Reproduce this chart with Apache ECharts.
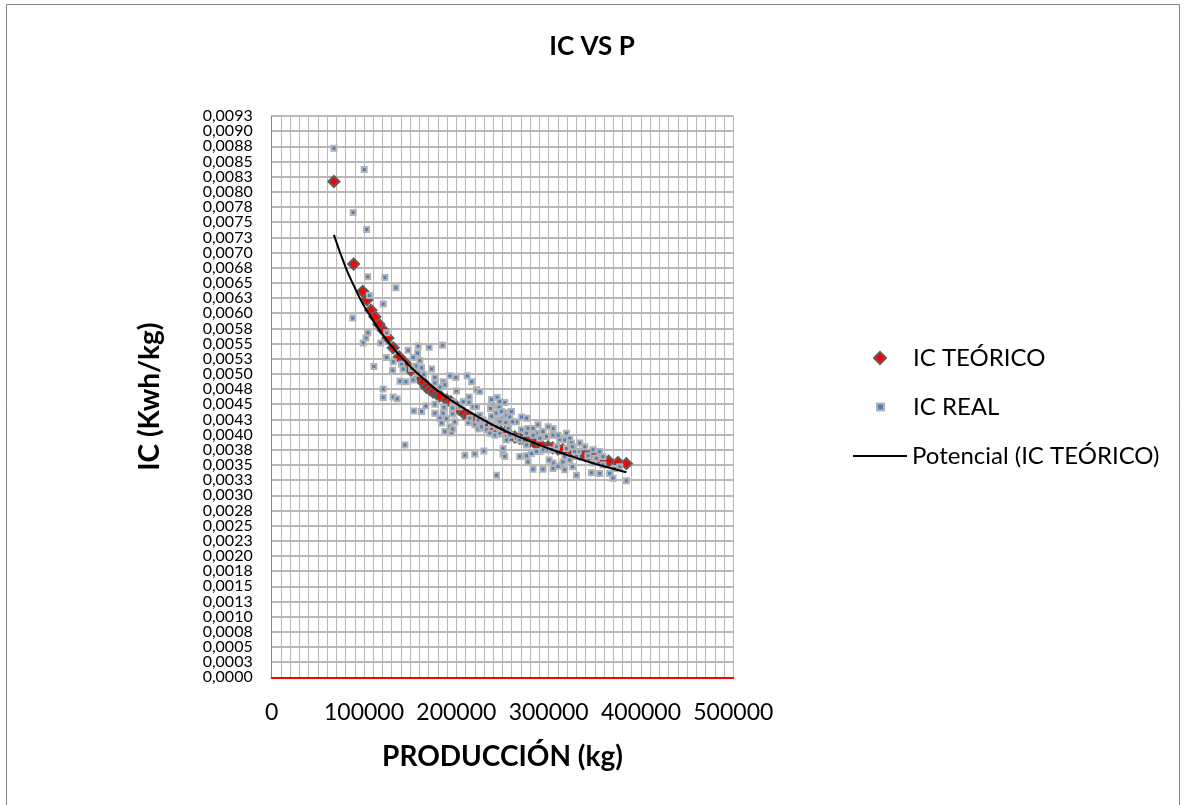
<!DOCTYPE html>
<html>
<head>
<meta charset="utf-8">
<script src="https://cdn.jsdelivr.net/npm/echarts@6.0.0/dist/echarts.min.js"></script>
<style>
html,body{margin:0;padding:0;background:#fff;}
#chart{width:1184px;height:805px;}
</style>
</head>
<body>
<div id="chart"></div>
<script>
// ---- Data ----
var realX = [67400,100200,88300,102800,103900,122600,134500,105800,120800,87900,104200,102100,124500,99100,118000,147800,158700,170600,185100,158000,153200,160500,124500,131600,140700,110700,131000,142400,162300,156200,173200,158700,151500,164800,176700,138900,145300,153200,185700,193000,199500,211700,216500,187600,182100,200200,221900,225400,120800,120800,131600,135900,213900,209200,213900,218200,176700,186500,195900,203800,221900,238100,244200,247100,252500,239200,246300,252500,242700,154000,162300,167000,176700,185700,195900,182100,189400,198400,184000,193000,225400,227300,220000,212800,245200,250600,254300,257900,265200,270600,276000,277700,283100,288500,270600,187600,194800,223600,232700,238100,241700,247100,254300,256100,286800,293900,297600,304800,312000,317400,322800,324700,333700,319300,331800,308400,303000,297600,290400,144300,209200,220000,229800,250600,243500,277700,283100,293900,304800,304800,313900,319300,330100,330100,348100,342600,355300,358900,348100,346300,355300,366100,369700,377000,384200,176700,196500,207400,237000,238100,259700,214600,223600,229000,227300,247100,243500,236300,257900,265200,195900,248900,253600,260800,299400,304800,328200,349900,268700,276000,281400,286800,293900,268700,276000,300400,310200,315600,317400,250600,252500,254300,276000,283100,290400,310200,319300,325800,317400,322800,325800,358900,371500,351700,339100];
var realY = [0.00872,0.00837,0.00766,0.00738,0.00660,0.00659,0.00642,0.00629,0.00615,0.00592,0.00568,0.00559,0.00568,0.00551,0.00551,0.00539,0.00546,0.00544,0.00547,0.00534,0.00527,0.00522,0.00527,0.00520,0.00516,0.00512,0.00506,0.00508,0.00510,0.00513,0.00508,0.00501,0.00509,0.00499,0.00494,0.00488,0.00487,0.00490,0.00487,0.00497,0.00494,0.00497,0.00487,0.00482,0.00478,0.00472,0.00474,0.00471,0.00475,0.00461,0.00462,0.00459,0.00462,0.00454,0.00453,0.00446,0.00450,0.00445,0.00444,0.00446,0.00446,0.00458,0.00461,0.00454,0.00453,0.00447,0.00445,0.00436,0.00435,0.00439,0.00438,0.00447,0.00435,0.00435,0.00434,0.00427,0.00426,0.00421,0.00419,0.00413,0.00432,0.00421,0.00416,0.00420,0.00424,0.00427,0.00432,0.00429,0.00421,0.00429,0.00427,0.00410,0.00410,0.00416,0.00408,0.00405,0.00403,0.00409,0.00408,0.00416,0.00399,0.00402,0.00397,0.00410,0.00402,0.00405,0.00397,0.00410,0.00392,0.00391,0.00394,0.00386,0.00386,0.00377,0.00372,0.00380,0.00375,0.00375,0.00372,0.00383,0.00366,0.00368,0.00373,0.00368,0.00333,0.00355,0.00343,0.00343,0.00344,0.00353,0.00350,0.00362,0.00364,0.00333,0.00375,0.00365,0.00372,0.00364,0.00353,0.00337,0.00336,0.00336,0.00328,0.00347,0.00324,0.00485,0.00454,0.00454,0.00443,0.00430,0.00438,0.00427,0.00424,0.00424,0.00413,0.00421,0.00413,0.00402,0.00399,0.00394,0.00409,0.00438,0.00420,0.00421,0.00413,0.00399,0.00372,0.00361,0.00391,0.00383,0.00369,0.00372,0.00375,0.00364,0.00365,0.00358,0.00348,0.00355,0.00342,0.00377,0.00364,0.00391,0.00402,0.00399,0.00394,0.00399,0.00402,0.00380,0.00364,0.00358,0.00347,0.00350,0.00344,0.00361,0.00380];

var teoX = [67400,88700,98500,103100,107500,111800,116100,120800,125900,131600,138100,144300,150800,160500,164100,167700,171300,174900,178900,182100,189700,194000,198400,202700,208100,212400,216800,221100,225400,228700,233000,236300,240600,247100,252500,257900,263300,268700,274100,279500,285000,291500,299400,304400,310200,315300,320700,327200,333700,339100,344500,349900,355300,365000,375100,384200];
var teoY = [0.00817,0.00681,0.00636,0.00622,0.00605,0.00594,0.00582,0.00572,0.00559,0.00543,0.00528,0.00518,0.00506,0.00495,0.00486,0.00478,0.00474,0.00470,0.00467,0.00464,0.00457,0.00454,0.00449,0.00442,0.00435,0.00431,0.00427,0.00424,0.00421,0.00417,0.00413,0.00411,0.00409,0.00406,0.00403,0.00399,0.00396,0.00394,0.00391,0.00389,0.00386,0.00383,0.00380,0.00378,0.00376,0.00375,0.00373,0.00371,0.00368,0.00366,0.00365,0.00363,0.00361,0.00356,0.00354,0.00352];

// Trendline (Potencial)
var trendX = [67400,80000,90000,100000,120000,140000,160000,180000,200000,225000,250000,275000,300000,325000,350000,384200];
var trendY = [0.00729,0.00676,0.00642,0.00612,0.00565,0.00528,0.00498,0.00472,0.00451,0.00428,0.00408,0.00392,0.00377,0.00364,0.00352,0.00338];

var titleText = 'IC VS P';
var xName = 'PRODUCCIÓN (kg)';
var yName = 'IC (Kwh/kg)';
var seriesNames = ['IC TEÓRICO', 'IC REAL', 'Potencial (IC TEÓRICO)'];
var yMin = 0, yMax = 0.00925, yStep = 0.00025;

function zip(a, b) { var r = []; for (var i = 0; i < a.length; i++) r.push([a[i], b[i]]); return r; }
function fmtY(v) {
  var n = Math.round(v * 10000 + 1e-7);
  return (n / 10000).toFixed(4).replace('.', ',');
}

var FONT = 'Lato';
var legendText = {fontFamily: FONT, fontSize: 24, color: '#000'};
var yLabel = {fontFamily: FONT, fontSize: 16, color: '#000', margin: 19, formatter: fmtY};
var chart = echarts.init(document.getElementById('chart'), null, {renderer: 'canvas'});
chart.setOption({
  animation: false,
  backgroundColor: '#ffffff',
  graphic: [{
    type: 'rect', shape: {x: 6.5, y: 4.5, width: 1173, height: 820},
    style: {fill: 'none', stroke: '#868686', lineWidth: 1}, silent: true, z: -10
  }],
  title: {
    text: titleText, left: 'center', top: 29,
    textStyle: {fontFamily: FONT, fontWeight: 'bold', fontSize: 26, color: '#000'}
  },
  legend: [
    {data: [seriesNames[0]], orient: 'vertical', left: 873, top: 346, padding: 0,
     itemWidth: 12, itemHeight: 12,
     textStyle: Object.assign({padding: [0, 0, 0, 22]}, legendText)},
    {data: [seriesNames[1]], orient: 'vertical', left: 876, top: 395, padding: 0,
     itemWidth: 7, itemHeight: 7,
     textStyle: Object.assign({padding: [0, 0, 0, 24]}, legendText)},
    {data: [{name: seriesNames[2], icon: 'rect'}], orient: 'vertical', left: 853, top: 444, padding: 0,
     itemWidth: 54, itemHeight: 2, textStyle: legendText}
  ],
  grid: {left: 271.7, right: 450.7, top: 116, bottom: 127.7, containLabel: false},
  xAxis: {
    type: 'value', min: 0, max: 500000, interval: 100000,
    name: xName, nameLocation: 'middle', nameGap: 66,
    nameTextStyle: {fontFamily: FONT, fontWeight: 'bold', fontSize: 28, color: '#000'},
    axisLine: {show: true, onZero: false, lineStyle: {color: '#ff0000', width: 2}},
    axisTick: {show: false},
    axisLabel: {fontFamily: FONT, fontSize: 23, color: '#000', margin: 24,
      showMinLabel: true, showMaxLabel: true,
      formatter: function (v) { return String(Math.round(v)); }},
    splitLine: {show: true, lineStyle: {color: '#b8b8b8', width: 1}},
    minorTick: {show: false, splitNumber: 10},
    minorSplitLine: {show: true, lineStyle: {color: '#b8b8b8', width: 1}}
  },
  yAxis: [
    {
      type: 'value', min: yMin, max: yMax, interval: yStep,
      name: yName, nameLocation: 'middle', nameGap: 108, nameRotate: 90,
      nameTextStyle: {fontFamily: FONT, fontWeight: 'bold', fontSize: 28, color: '#000'},
      axisLine: {show: true, lineStyle: {color: '#868686', width: 1}},
      axisTick: {show: false},
      axisLabel: Object.assign({showMinLabel: false, showMaxLabel: false}, yLabel),
      splitLine: {show: true, lineStyle: {color: '#a0a0a0', width: 1.5}}
    },
    {
      // carries only the end labels (0 and max) of the same scale
      type: 'value', position: 'left', offset: 0, min: yMin, max: yMax, interval: yMax - yMin,
      axisLine: {show: false}, axisTick: {show: false}, splitLine: {show: false},
      axisLabel: Object.assign({showMinLabel: true, showMaxLabel: true}, yLabel)
    }
  ],
  series: [
    {
      name: seriesNames[0], type: 'scatter', data: zip(teoX, teoY),
      symbol: 'diamond', symbolSize: 11,
      itemStyle: {color: '#ff0000', borderColor: '#5e5e5e', borderWidth: 2, opacity: 1},
      z: 2
    },
    {
      name: seriesNames[1], type: 'scatter', data: zip(realX, realY),
      symbol: 'rect', symbolSize: 5,
      itemStyle: {color: '#4f81bd', borderColor: '#b3b3b3', borderWidth: 2, opacity: 1},
      z: 3
    },
    {
      name: seriesNames[2], type: 'line', data: zip(trendX, trendY),
      smooth: true, symbol: 'none', showSymbol: false,
      lineStyle: {color: '#000000', width: 2},
      itemStyle: {color: '#000000'},
      z: 4
    }
  ]
});
</script>
</body>
</html>
